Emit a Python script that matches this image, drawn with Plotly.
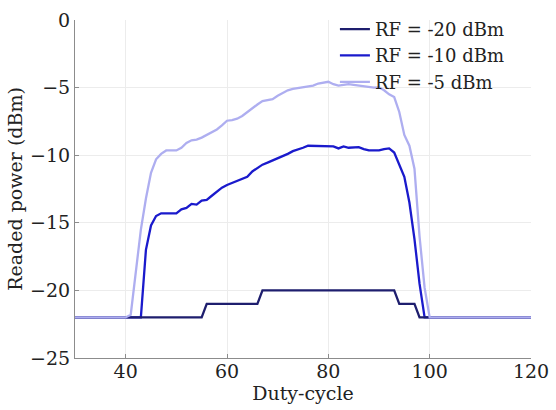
import plotly.graph_objects as go

# Duty-cycle sweep (%), one reading per integer step
duty = list(range(30, 121))

# Readed power (dBm) for each RF input level
p_m20 = ([-22] * 26            # 30..55
         + [-21] * 11          # 56..66
         + [-20] * 27          # 67..93
         + [-21] * 4           # 94..97
         + [-22] * 23)         # 98..120

p_m10 = ([-22] * 14            # 30..43
         + [-17.0, -15.2, -14.5, -14.3, -14.3, -14.3, -14.3,        # 44..50
            -14.0, -13.9, -13.6, -13.65, -13.35, -13.3, -13.0,      # 51..57
            -12.7, -12.4, -12.2, -12.05, -11.95, -11.75, -11.6,     # 58..64
            -11.2, -10.95, -10.7, -10.55, -10.4, -10.25, -10.1,     # 65..71
            -9.9, -9.7, -9.6, -9.45, -9.3, -9.3, -9.3,              # 72..78
            -9.3, -9.3, -9.35, -9.5, -9.35, -9.45, -9.4,            # 79..85
            -9.4, -9.55, -9.65, -9.65, -9.65, -9.55, -9.5,          # 86..92
            -9.8, -10.7, -11.6, -13.5, -16.2, -19.5]                # 93..98
         + [-22] * 22)         # 99..120

p_m5 = ([-22] * 11             # 30..40
        + [-21.8, -18.5, -15.5, -13.2, -11.3, -10.3, -9.9,          # 41..47
           -9.65, -9.65, -9.65, -9.45, -9.1, -8.9, -8.85,           # 48..54
           -8.7, -8.5, -8.3, -8.1, -7.8, -7.45, -7.4,               # 55..61
           -7.3, -7.1, -6.8, -6.5, -6.25, -6.0, -5.95,              # 62..68
           -5.85, -5.6, -5.4, -5.2, -5.1, -5.05, -5.0,              # 69..75
           -4.95, -4.85, -4.7, -4.65, -4.57, -4.75, -4.85,          # 76..82
           -4.8, -4.75, -4.8, -4.85, -4.95, -4.95, -5.0,            # 83..89
           -4.98, -5.2, -5.5, -5.7, -6.8, -8.5, -9.3,               # 90..96
           -11.0, -16.0, -19.8]                                     # 97..99
        + [-22] * 21)          # 100..120

series = [
    ("RF = -10 dBm", p_m10, "#1a1acc", 2),
    ("RF = -20 dBm", p_m20, "#1e1e6e", 1),
    ("RF = -5 dBm", p_m5, "#aeaef0", 3),
]

x_ticks = [40, 60, 80, 100, 120]
y_ticks = [0, -5, -10, -15, -20, -25]

FONT = "DejaVu Serif"

fig = go.Figure()
for name, vals, color, rank in series:
    fig.add_trace(go.Scatter(
        x=duty, y=vals, mode="lines", name=name,
        line=dict(color=color, width=2.3),
        legendrank=rank,
    ))

axis_common = dict(
    showgrid=True, gridcolor="#ececec", gridwidth=1,
    showline=True, linecolor="#8c8c8c", linewidth=1,
    ticks="inside", ticklen=4, tickcolor="#8c8c8c",
    zeroline=False, automargin=False,
    tickfont=dict(family=FONT, size=19, color="#222"),
)

fig.update_layout(
    width=556, height=410,
    margin=dict(l=75, r=25, t=19, b=52),
    paper_bgcolor="white", plot_bgcolor="white",
    font=dict(family=FONT, color="#222"),
    xaxis=dict(range=[30, 120], tickvals=x_ticks, ticklabelstandoff=-4,
               title=dict(text="Duty-cycle", font=dict(family=FONT, size=19), standoff=3),
               **axis_common),
    yaxis=dict(range=[-25, 0], tickvals=y_ticks,
               title=dict(text="Readed power (dBm)", font=dict(family=FONT, size=19), standoff=2),
               **axis_common),
    legend=dict(x=0.57, y=1.024, xanchor="left", yanchor="top",
                bgcolor="rgba(0,0,0,0)", borderwidth=0,
                font=dict(family=FONT, size=18, color="#222"),
                tracegroupgap=0),
    showlegend=True,
)

fig.write_html("out.html")
